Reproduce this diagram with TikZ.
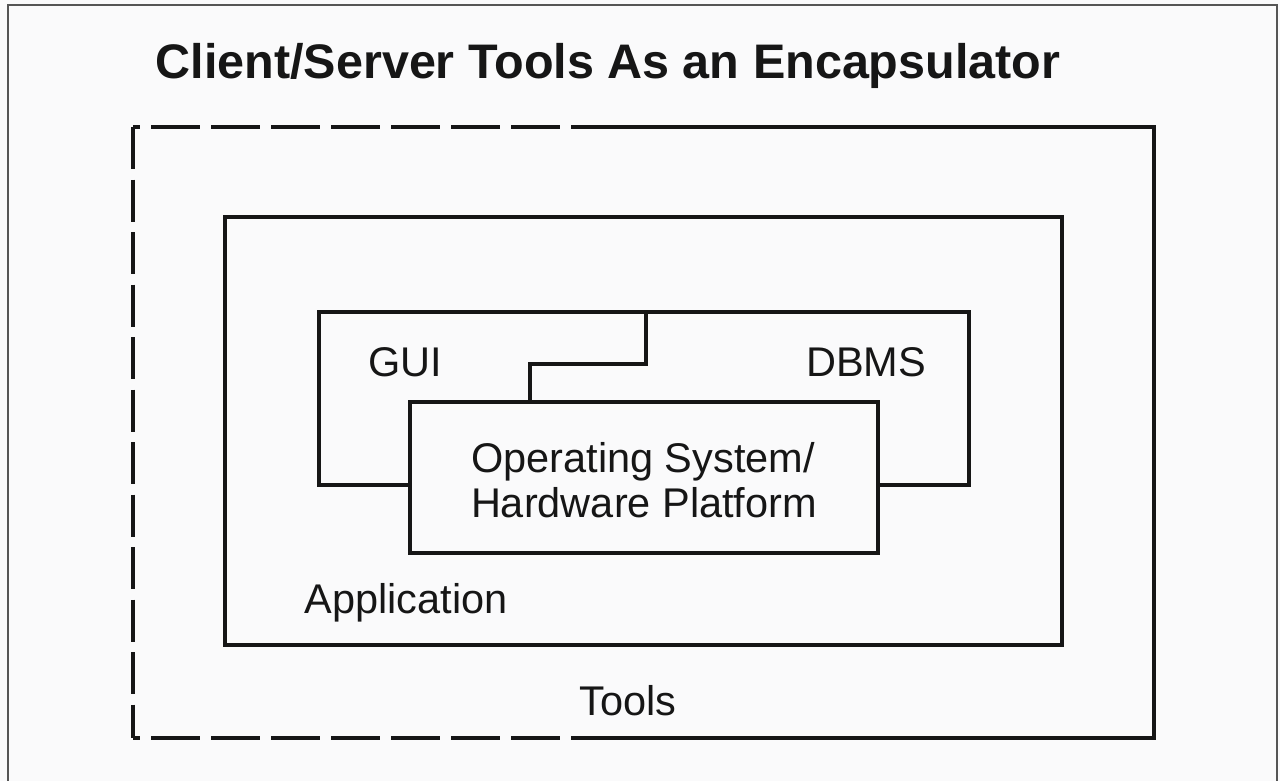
\documentclass[tikz,border=0pt]{standalone}
\usepackage{fontspec}
\setmainfont{Liberation Sans}
\definecolor{paper}{RGB}{250,250,251}
\definecolor{ink}{RGB}{22,22,22}
\definecolor{framegray}{RGB}{85,85,85}
\begin{document}
\begin{tikzpicture}[x=1pt,y=-1pt,
  box/.style={draw=ink, line width=3.2pt, inner sep=0pt, outer sep=0pt, anchor=north west},
  hdash/.style={draw=ink, line width=3.2pt, dash pattern=on 49pt off 11pt, dash phase=42pt},
  vdash/.style={draw=ink, line width=3.2pt, dash pattern=on 42pt off 10.5pt},
  lbl/.style={font=\fontsize{41.5}{45}\selectfont, text=ink, inner sep=0pt, anchor=base},
  ttl/.style={font=\bfseries\fontsize{48.5}{52}\selectfont, text=ink, inner sep=0pt, anchor=base}]

% sheet
\fill[paper] (0,0) rectangle (1280,781);
\useasboundingbox (0,0) rectangle (1280,781);

% page frame, open at the bottom
\draw[framegray, line width=2pt] (8,781) -- (8,5) -- (1277,5) -- (1277,781);

% heading
\node[ttl] (title) at (608,79) {Client/Server Tools As an Encapsulator};

% tools layer: dashed on the left, solid on the right
\coordinate (tNW) at (133,127);
\coordinate (tNE) at (1154,127);
\coordinate (tSE) at (1154,738);
\coordinate (tSW) at (133,738);
\coordinate (tTopD) at (560,127);
\coordinate (tBotD) at (560,738);
\coordinate (tTop) at (571,127);
\coordinate (tBot) at (571,738);
\draw[hdash] (tNW) -- (tTopD);
\draw[vdash] (tNW) -- (tSW);
\draw[hdash] (tSW) -- (tBotD);
\draw[draw=ink, line width=3.2pt, line join=miter] (tTop) -- (tNE) -- (tSE) -- (tBot);
\node[lbl] (tools) at (628,715) {Tools};

% application layer
\node[box, minimum width=837pt, minimum height=428pt] (app) at (225,217) {};
\node[lbl] (applabel) at (406,613) {Application};

% GUI / DBMS block with its dividing step
\node[box, minimum width=650pt, minimum height=173pt] (gd) at (319,312) {};
\coordinate (stepTop) at (646,312);
\coordinate (stepMid) at (530,364);
\coordinate (stepLow) at (530,402);
\draw[draw=ink, line width=3.2pt] (stepTop) |- (stepMid) -- (stepLow);
\node[lbl] (gui) at (405,376) {GUI};
\node[lbl] (dbms) at (866,376) {DBMS};

% operating system / hardware platform on top
\node[box, fill=paper, minimum width=468pt, minimum height=151pt] (os) at (410,402) {};
\node[lbl] (os1) at (643,472) {Operating System/};
\node[lbl] (os2) at (644,517) {Hardware Platform};
\end{tikzpicture}
\end{document}
